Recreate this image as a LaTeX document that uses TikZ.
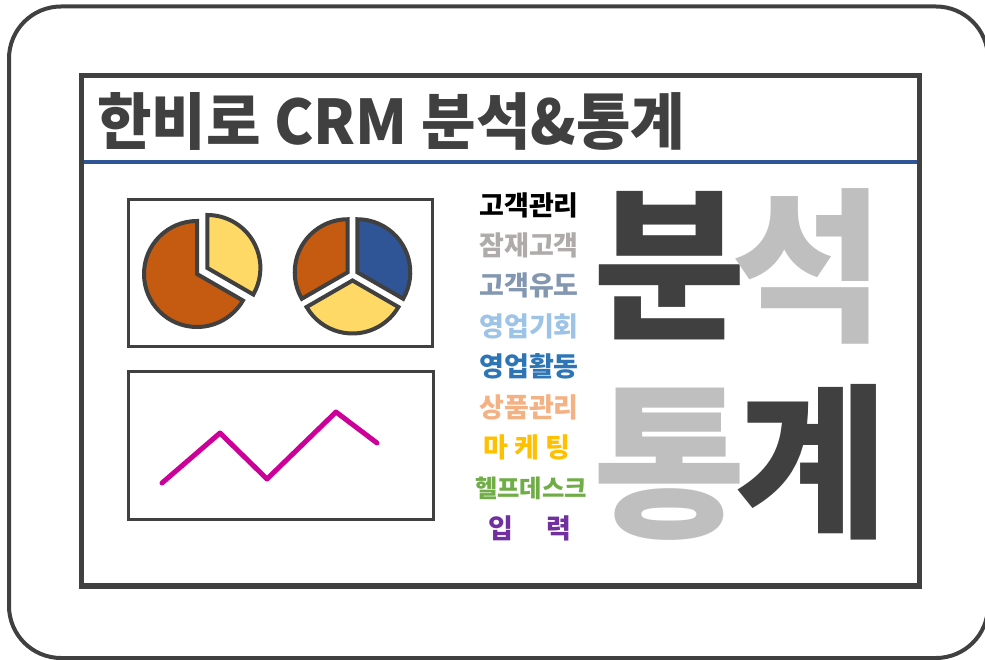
\documentclass[tikz,border=0pt]{standalone}
\usepackage{fontspec}
\setmainfont{Noto Sans CJK KR}
\usepackage{graphicx}
\definecolor{dk}{HTML}{404040}
\definecolor{lg}{HTML}{BFBFBF}
\definecolor{brn}{HTML}{C55A11}
\definecolor{ylw}{HTML}{FFD966}
\definecolor{blu}{HTML}{2F5597}
\definecolor{mag}{HTML}{CC0099}
\definecolor{c1}{HTML}{000000}
\definecolor{c2}{HTML}{AFABAB}
\definecolor{c3}{HTML}{8497B0}
\definecolor{c4}{HTML}{9DC3E6}
\definecolor{c5}{HTML}{2E75B6}
\definecolor{c6}{HTML}{F4B183}
\definecolor{c7}{HTML}{FFC000}
\definecolor{c8}{HTML}{70AD47}
\definecolor{c9}{HTML}{7030A0}
\begin{document}
\begin{tikzpicture}[x=1pt,y=1pt,
  chartbox/.style={draw=dk, line width=3pt},
  piepart/.style={draw=dk, line width=4pt},
  item/.style={inner sep=0pt, anchor=center, font=\fontsize{27}{27}\selectfont\bfseries},
  bigchar/.style={inner sep=0pt, anchor=center, font=\fontsize{166}{166}\selectfont\bfseries},
]
\useasboundingbox (0,0) rectangle (985,-660);
% outer rounded frame
\draw[dk, line width=4pt, rounded corners=52pt] (9,-6.5) rectangle (988,-658);
% inner panel
\draw[dk, line width=5.5pt] (81.7,-75.5) rectangle (919.5,-586);
\draw[blu, line width=4.5pt] (84,-162) -- (917,-162);
% title
\node[inner sep=0pt, anchor=west, text=dk] (title) at (97,-121)
  {\resizebox{588pt}{52pt}{\bfseries 한비로 CRM 분석\&통계}};
% chart boxes
\draw[chartbox] (128,-199.7) rectangle (432,-346.3);
\draw[chartbox] (128,-371.3) rectangle (433,-519.7);
% left pie
\begin{scope}[shift={(197,-274)}]
  \filldraw[piepart, fill=brn] (0,0) -- (90:53) arc[start angle=90, end angle=330, radius=53] -- cycle;
  \begin{scope}[shift={(30:12)}]
    \filldraw[piepart, fill=ylw] (0,0) -- (-30:53) arc[start angle=-30, end angle=90, radius=53] -- cycle;
  \end{scope}
\end{scope}
% right pie
\begin{scope}[shift={(352.5,-275)}]
  \begin{scope}[shift={(150:5.5)}]
    \filldraw[piepart, fill=brn] (0,0) -- (90:53) arc[start angle=90, end angle=210, radius=53] -- cycle;
  \end{scope}
  \begin{scope}[shift={(30:5.5)}]
    \filldraw[piepart, fill=blu] (0,0) -- (-30:53) arc[start angle=-30, end angle=90, radius=53] -- cycle;
  \end{scope}
  \begin{scope}[shift={(270:5.5)}]
    \filldraw[piepart, fill=ylw] (0,0) -- (210:53) arc[start angle=210, end angle=330, radius=53] -- cycle;
  \end{scope}
\end{scope}
% line chart
\draw[mag, line width=5pt, line cap=round, line join=round]
  (162,-483) -- (220,-433) -- (267,-479) -- (336,-412) -- (377,-443);
% list
\node[item, text=c1] (l1) at (529,-205) {고객관리};
\node[item, text=c2] (l2) at (529,-245) {잠재고객};
\node[item, text=c3] (l3) at (529,-285.5) {고객유도};
\node[item, text=c4] (l4) at (529,-326) {영업기회};
\node[item, text=c5] (l5) at (529,-366.5) {영업활동};
\node[item, text=c6] (l6) at (529,-407) {상품관리};
\node[item, text=c7] (l7) at (527,-447.5) {마 케 팅};
\node[item, text=c8] (l8) at (531,-488) {\resizebox{112pt}{!}{헬프데스크}};
\node[item, text=c9] (l9) at (530,-528.5) {입\hspace{34pt}력};
% big words
\node[bigchar, text=dk] (b1) at (670,-265.5) {분};
\node[bigchar, text=lg] (b2) at (808,-266) {석};
\node[bigchar, text=lg] (t1) at (670,-464) {통};
\node[bigchar, text=dk] (t2) at (812,-462) {계};
\end{tikzpicture}
\end{document}
